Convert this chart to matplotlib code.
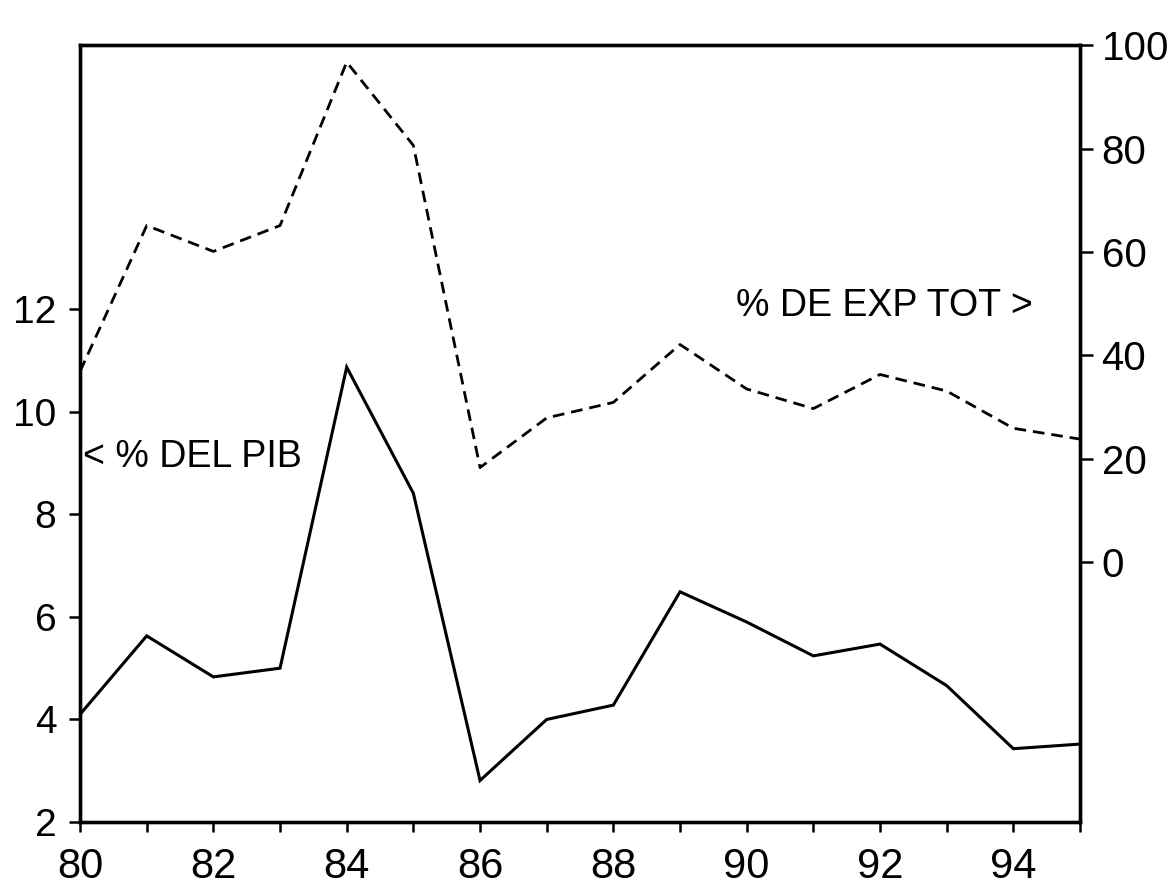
import matplotlib
matplotlib.use("Agg")
import matplotlib.pyplot as plt
import numpy as np

plt.rcParams["font.family"] = ["Liberation Sans", "DejaVu Sans"]

years = [80, 81, 82, 83, 84, 85, 86, 87, 88, 89, 90, 91, 92, 93, 94, 95]
# % del PIB (left axis, solid)
pib = [4.10, 5.63, 4.83, 5.00, 10.87, 8.41, 2.81, 4.00, 4.28, 6.49,
       5.90, 5.24, 5.47, 4.66, 3.43, 3.52]
# % de exportaciones totales (right axis, dashed)
exp_tot = [36.9, 65.1, 60.1, 65.1, 96.7, 80.6, 18.3, 27.9, 30.9, 42.1,
           33.5, 29.7, 36.3, 33.1, 25.9, 23.8]

left_ticks = [2, 4, 6, 8, 10, 12]
right_ticks = [0, 20, 40, 60, 80, 100]
x_labels = ["80", "82", "84", "86", "88", "90", "92", "94"]

fig = plt.figure(figsize=(11.72, 8.91), dpi=100)
ax = fig.add_axes([0.0683, 0.0774, 0.8532, 0.872])
ax2 = ax.twinx()

ax.plot(years, pib, color="black", lw=2.2, solid_joinstyle="miter")
ax2.plot(years, exp_tot, color="black", lw=2.0, dashes=(4.2, 2.5))

ax.set_xlim(80, 95)
ax.set_ylim(2, 17.15)
ax2.set_ylim(-50.25, 100)

ax.set_xticks(np.arange(80, 95, 2))
ax.set_xticklabels(x_labels)
ax.set_xticks(np.arange(81, 96, 2), minor=True)
ax.set_yticks(left_ticks)
ax2.set_yticks(right_ticks)

ax.tick_params(axis="x", which="both", direction="out", length=7, width=1.8,
               labelsize=30, pad=11)
ax.tick_params(axis="y", direction="out", length=8, width=1.8, labelsize=28, pad=9)
ax2.tick_params(axis="y", direction="out", length=9.5, width=1.8, labelsize=29, pad=6)

for a in (ax, ax2):
    for s in a.spines.values():
        s.set_linewidth(2.4)

ax.text(80.05, 9.12, "< % DEL PIB", fontsize=27, ha="left", va="center")
ax.text(94.3, 12.06, "% DE EXP TOT >", fontsize=27, ha="right", va="center")

fig.savefig("out.png", dpi=100)
